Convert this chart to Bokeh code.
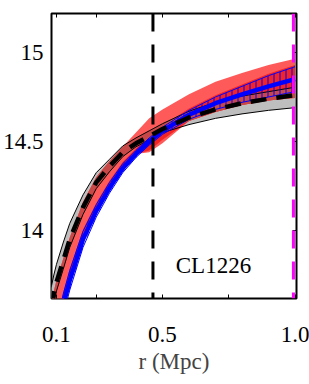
import numpy as np
from bokeh.plotting import figure
from bokeh.models import LinearAxis, FixedTicker, Range1d, Span
from bokeh.embed import file_html
from bokeh.resources import INLINE
from bokeh.core.properties import value

# ---------------- data ----------------
r = [0.08, 0.09, 0.1, 0.125, 0.15, 0.2, 0.25, 0.3, 0.35, 0.4, 0.45, 0.5, 0.6, 0.7, 0.8, 0.9, 1.0]

# grey band (with black dashed central profile)
black_mid = [13.57, 13.645, 13.71, 13.83, 13.95, 14.13, 14.27, 14.36, 14.44, 14.49, 14.53, 14.57, 14.635, 14.68, 14.715, 14.74, 14.76]
grey_hi = [13.68, 13.75, 13.81, 13.93, 14.04, 14.20, 14.325, 14.40, 14.475, 14.52, 14.56, 14.60, 14.67, 14.72, 14.755, 14.78, 14.805]
grey_lo = [13.52, 13.595, 13.66, 13.78, 13.905, 14.09, 14.235, 14.33, 14.415, 14.47, 14.51, 14.55, 14.595, 14.63, 14.655, 14.675, 14.69]

# red band (outer) and its inner core
red_hi = [13.58, 13.66, 13.72, 13.84, 13.96, 14.16, 14.30, 14.39, 14.47, 14.55, 14.63, 14.68, 14.765, 14.835, 14.885, 14.93, 14.965]
red_lo = [13.24, 13.35, 13.45, 13.60, 13.72, 13.93, 14.095, 14.23, 14.345, 14.43, 14.44, 14.49, 14.615, 14.665, 14.705, 14.73, 14.745]
red_core_hi = [13.24, 13.36, 13.48, 13.65, 13.785, 14.005, 14.155, 14.28, 14.385, 14.46, 14.53, 14.59, 14.685, 14.76, 14.82, 14.88, 14.93]
red_core_lo = [13.24, 13.35, 13.45, 13.60, 13.72, 13.93, 14.095, 14.23, 14.345, 14.43, 14.45, 14.51, 14.615, 14.665, 14.705, 14.73, 14.75]

# blue hatched band
blue_mid = [13.15, 13.27, 13.40, 13.58, 13.72, 13.95, 14.11, 14.24, 14.35, 14.43, 14.50, 14.56, 14.65, 14.715, 14.765, 14.81, 14.85]
blue_hi = [13.23, 13.35, 13.47, 13.64, 13.775, 13.995, 14.145, 14.27, 14.375, 14.45, 14.52, 14.58, 14.675, 14.75, 14.81, 14.87, 14.92]
blue_lo = [13.07, 13.19, 13.33, 13.52, 13.665, 13.905, 14.075, 14.21, 14.325, 14.41, 14.48, 14.54, 14.625, 14.68, 14.72, 14.75, 14.78]

# vertical reference radii
r_black = [0.464]
r_magenta = [0.994]

x_label_ticks = [0.1, 0.5, 1.0]
x_minor_ticks = [0.25, 0.75]
x_all_ticks = [0.1, 0.25, 0.5, 0.75, 1.0]
x_tick_labels = {0.1: "0.1", 0.5: "0.5", 1.0: "1.0"}
y_ticks = [14, 14.5, 15]
y_tick_labels = {14: "14", 14.5: "14.5", 15: "15"}

cluster_name = "CL1226"
x_title = "r (Mpc)"

# ---------------- derived ----------------
ra = np.array(r)
ov_lo = np.maximum(np.array(red_lo), np.array(grey_lo))
ov_hi = np.maximum(np.minimum(np.array(red_hi), np.array(grey_hi)), ov_lo)

FONT = "Liberation Serif"

p = figure(width=309, height=384, output_backend="svg", toolbar_location=None,
           x_range=Range1d(0.0812, 1.0056), y_range=Range1d(13.618, 15.219),
           min_border_left=50, min_border_right=13, min_border_top=13, min_border_bottom=86,
           x_axis_location=None, y_axis_location=None)
p.xgrid.visible = False
p.ygrid.visible = False
p.outline_line_color = "black"
p.outline_line_width = 2
p.background_fill_color = "white"
p.border_fill_color = "white"

# bands
p.varea(x=ra, y1=grey_lo, y2=grey_hi, fill_color="#bebebe")
p.varea(x=ra, y1=red_lo, y2=red_hi, fill_color="#ff5a5a")
p.varea(x=ra, y1=red_core_lo, y2=red_core_hi, fill_color="#f42424")
p.varea(x=ra, y1=ov_lo, y2=ov_hi, fill_color="#c84848")
p.line(ra, grey_hi, line_color="black", line_width=1)
p.line(ra, grey_lo, line_color="black", line_width=1)

p.varea(x=ra, y1=blue_lo, y2=blue_hi, fill_color=None, fill_alpha=0,
        hatch_pattern="|", hatch_color="#0000ff", hatch_scale=6, hatch_weight=1)
p.line(ra, blue_hi, line_color="#0000ff", line_width=1)
p.line(ra, blue_lo, line_color="#0000ff", line_width=1)
p.line(ra, blue_mid, line_color="#0000ff", line_width=4.5)
p.line(ra, black_mid, line_color="black", line_width=4.5, line_dash="16 10")

for xv in r_black:
    p.add_layout(Span(location=xv, dimension="height", line_color="black",
                      line_width=3, line_dash="18 13"))
for xv in r_magenta:
    p.add_layout(Span(location=xv, dimension="height", line_color="#ff00ff",
                      line_width=3, line_dash="18 13"))

p.text(x=[0.55], y=[13.803], text=[cluster_name], text_font=value(FONT),
       text_font_size="23px", text_color="black", text_baseline="alphabetic",
       text_align="left")

def style(ax):
    ax.axis_line_color = None
    ax.major_tick_line_color = "black"
    ax.major_tick_line_width = 1
    ax.major_tick_in = 4
    ax.major_tick_out = 0
    ax.minor_tick_line_color = "black"
    ax.minor_tick_line_width = 1
    ax.minor_tick_in = 4
    ax.minor_tick_out = 0
    ax.major_label_text_font = FONT
    ax.major_label_text_color = "black"
    ax.major_label_text_font_size = "23px"

xb = LinearAxis(ticker=FixedTicker(ticks=x_label_ticks, minor_ticks=x_minor_ticks),
                major_label_overrides=x_tick_labels, axis_label=x_title)
style(xb)
xb.major_label_standoff = 28
xb.axis_label_text_font = FONT
xb.axis_label_text_font_style = "normal"
xb.axis_label_text_font_size = "23px"
xb.axis_label_standoff = 4
p.add_layout(xb, "below")

xt = LinearAxis(ticker=FixedTicker(ticks=[], minor_ticks=x_all_ticks))
style(xt)
xt.major_label_standoff = 0
p.add_layout(xt, "above")

yl = LinearAxis(ticker=FixedTicker(ticks=y_ticks), major_label_overrides=y_tick_labels)
style(yl)
yl.major_tick_in = 0
yl.major_label_standoff = 8
p.add_layout(yl, "left")

yr = LinearAxis(ticker=FixedTicker(ticks=[], minor_ticks=y_ticks))
style(yr)
yr.major_label_standoff = 0
p.add_layout(yr, "right")

open("out.html", "w").write(file_html(p, INLINE))
